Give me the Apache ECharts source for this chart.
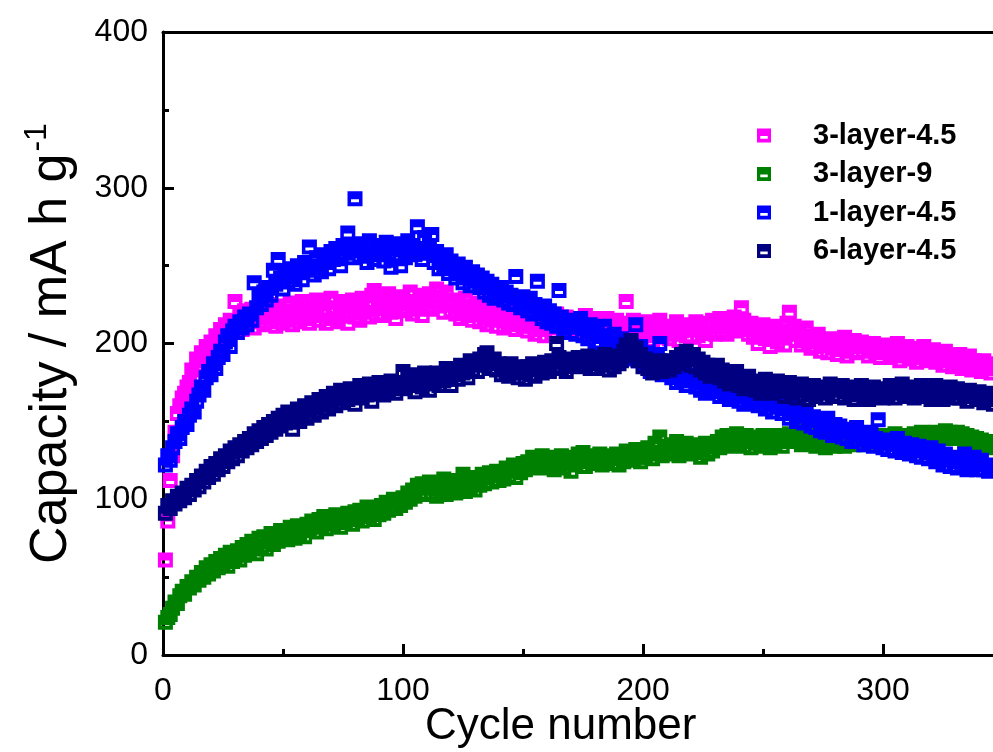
<!DOCTYPE html>
<html>
<head>
<meta charset="utf-8">
<script src="https://cdn.jsdelivr.net/npm/echarts@6/dist/echarts.min.js"></script>
<style>
  html, body { margin: 0; padding: 0; background: #ffffff; overflow: hidden; }
  #chart { width: 1160px; height: 752px; }
</style>
</head>
<body>
<div id="chart"></div>
<script>
// Discharge capacity (mA h g-1) for each cycle, starting at cycle 1.
const seriesNames = ['3-layer-4.5', '3-layer-9', '1-layer-4.5', '6-layer-4.5'];
const seriesColors = ['#ff00ff', '#008000', '#0000ff', '#000080'];

const layer3_45 = [
  61, 86, 112, 128, 143, 155, 160, 165, 168, 172,
  175, 183, 179, 190, 186, 194, 189, 198, 193, 201,
  197, 205, 200, 209, 203, 212, 206, 215, 209, 227,
  211, 218, 209, 221, 213, 216, 222, 210, 219, 214,
  223, 212, 218, 225, 214, 220, 211, 224, 217, 213,
  221, 215, 226, 212, 219, 223, 214, 227, 216, 220,
  213, 224, 218, 228, 215, 221, 226, 213, 222, 229,
  216, 223, 214, 227, 219, 225, 213, 221, 228, 217,
  224, 215, 229, 220, 226, 217, 231, 234, 219, 225,
  228, 218, 224, 232, 220, 227, 216, 229, 223, 230,
  221, 227, 233, 219, 226, 222, 231, 218, 228, 224,
  232, 222, 229, 235, 224, 230, 220, 233, 226, 221,
  228, 219, 225, 216, 223, 229, 218, 224, 215, 221,
  226, 214, 220, 223, 212, 218, 215, 222, 211, 217,
  219, 210, 216, 221, 212, 218, 209, 215, 220, 211,
  214, 208, 217, 211, 206, 215, 209, 213, 205, 212,
  216, 207, 213, 219, 210, 215, 208, 217, 211, 214,
  209, 216, 212, 207, 214, 218, 210, 213, 208, 216,
  211, 206, 214, 209, 216, 205, 212, 208, 215, 210,
  206, 213, 227, 209, 204, 215, 211, 203, 212, 207,
  214, 205, 210, 202, 212, 207, 215, 204, 209, 211,
  203, 210, 206, 214, 202, 208, 212, 205, 211, 204,
  209, 214, 205, 211, 207, 202, 213, 208, 215, 206,
  211, 216, 208, 213, 206, 214, 210, 217, 208, 212,
  223, 215, 209, 206, 213, 204, 210, 200, 207, 212,
  203, 209, 198, 206, 211, 201, 208, 204, 199, 213,
  220, 206, 211, 202, 208, 199, 205, 210, 201, 197,
  204, 198, 206, 195, 202, 199, 194, 203, 197, 200,
  193, 201, 196, 204, 192, 199, 195, 202, 194, 198,
  201, 195, 199, 192, 197, 200, 194, 196, 191, 198,
  194, 199, 191, 197, 193, 200, 189, 196, 192, 198,
  190, 197, 193, 188, 195, 191, 198, 189, 194, 190,
  196, 188, 193, 190, 186, 195, 189, 192, 185, 191,
  187, 193, 184, 190, 186, 192, 183, 189, 185, 188,
  182, 189, 184, 187, 181, 185
];

const layer3_9 = [
  21, 24, 26, 30, 34, 33, 38, 41, 39, 44,
  43, 47, 45, 50, 48, 53, 50, 56, 52, 58,
  54, 60, 56, 62, 58, 64, 57, 66, 60, 63,
  67, 61, 69, 64, 71, 66, 73, 68, 65, 75,
  70, 76, 68, 74, 78, 71, 77, 73, 80, 75,
  79, 74, 82, 77, 75, 83, 78, 81, 76, 84,
  80, 86, 82, 79, 87, 83, 89, 81, 85, 88,
  84, 90, 86, 82, 89, 85, 91, 87, 84, 92,
  88, 93, 86, 90, 95, 89, 92, 87, 94, 90,
  96, 91, 98, 93, 95, 100, 94, 99, 96, 101,
  98, 104, 100, 106, 102, 109, 104, 110, 103, 107,
  111, 104, 108, 102, 109, 106, 113, 103, 108, 105,
  110, 104, 112, 107, 116, 105, 110, 108, 114, 106,
  112, 109, 116, 110, 114, 117, 111, 115, 118, 112,
  117, 113, 120, 115, 118, 122, 114, 121, 117, 123,
  119, 124, 121, 127, 122, 125, 120, 128, 123, 126,
  121, 127, 119, 125, 122, 128, 120, 126, 124, 118,
  127, 122, 129, 124, 130, 121, 126, 128, 123, 127,
  125, 129, 122, 127, 124, 128, 123, 126, 129, 122,
  128, 124, 131, 126, 129, 125, 132, 127, 124, 130,
  127, 133, 129, 126, 136, 130, 140, 128, 134, 131,
  129, 135, 131, 137, 128, 134, 130, 136, 132, 129,
  135, 130, 134, 127, 133, 136, 129, 135, 131, 134,
  137, 133, 140, 135, 141, 134, 139, 136, 142, 135,
  139, 134, 141, 137, 133, 140, 136, 138, 134, 141,
  136, 140, 133, 139, 135, 141, 137, 134, 140, 138,
  142, 137, 140, 146, 139, 135, 143, 137, 141, 136,
  139, 134, 140, 136, 138, 133, 139, 135, 137, 134,
  138, 135, 137, 134, 139, 136, 138, 135, 137, 136,
  138, 135, 140, 136, 139, 137, 141, 136, 139, 138,
  140, 137, 141, 138, 142, 139, 137, 141, 138, 140,
  141, 138, 142, 139, 140, 143, 138, 141, 139, 142,
  140, 143, 139, 142, 141, 144, 139, 143, 140, 142,
  143, 139, 142, 138, 141, 137, 140, 136, 139, 137,
  138, 135, 137, 133, 136, 134
];

const layer1_45 = [
  122, 128, 125, 133, 137, 142, 139, 146, 150, 148,
  154, 158, 156, 163, 167, 172, 170, 178, 182, 180,
  187, 184, 191, 195, 193, 201, 205, 198, 208, 211,
  207, 214, 210, 217, 212, 219, 215, 239, 223, 230,
  225, 233, 228, 236, 231, 247, 238, 254, 242, 235,
  245, 240, 248, 243, 238, 250, 246, 241, 252, 247,
  262, 249, 244, 255, 250, 246, 257, 252, 248, 259,
  254, 261, 256, 250, 263, 258, 271, 260, 255, 293,
  262, 256, 264, 258, 252, 266, 259, 254, 263, 257,
  261, 253, 265, 258, 249, 262, 256, 264, 250, 260,
  255, 266, 259, 263, 257, 275, 261, 254, 268, 258,
  263, 270, 252, 259, 248, 256, 250, 257, 245, 253,
  248, 242, 251, 245, 239, 249, 243, 237, 246, 240,
  244, 236, 242, 233, 240, 231, 238, 229, 235, 232,
  236, 228, 233, 226, 231, 225, 243, 229, 223, 230,
  227, 221, 229, 219, 225, 240, 222, 216, 224, 214,
  221, 213, 219, 211, 234, 217, 209, 215, 212, 207,
  214, 206, 211, 216, 205, 210, 203, 212, 207, 201,
  208, 200, 205, 211, 198, 203, 196, 206, 200, 194,
  203, 192, 199, 190, 201, 195, 212, 189, 198, 192,
  186, 194, 182, 190, 185, 192, 200, 180, 188, 183,
  186, 178, 184, 175, 182, 177, 185, 173, 180, 176,
  179, 172, 177, 170, 176, 168, 175, 171, 178, 169,
  173, 166, 175, 168, 172, 164, 170, 166, 173, 163,
  168, 161, 167, 164, 170, 162, 166, 160, 168, 163,
  158, 165, 161, 156, 166, 159, 163, 155, 162, 158,
  152, 161, 157, 150, 159, 154, 149, 155, 151, 147,
  153, 146, 151, 144, 149, 143, 152, 145, 141, 148,
  143, 147, 140, 145, 139, 144, 137, 142, 146, 138,
  141, 135, 140, 137, 143, 134, 139, 151, 136, 133,
  138, 132, 137, 135, 131, 139, 133, 130, 136, 132,
  129, 135, 131, 128, 134, 127, 132, 130, 126, 133,
  128, 124, 131, 126, 122, 129, 125, 121, 127, 124,
  120, 126, 122, 129, 119, 124, 121, 127, 119, 123,
  125, 119, 122, 118, 121, 120
];

const layer6_45 = [
  91, 96, 94, 99, 97, 102, 99, 104, 101, 107,
  103, 109, 106, 112, 108, 115, 111, 118, 114, 121,
  116, 123, 119, 126, 121, 128, 124, 131, 126, 133,
  128, 135, 131, 137, 133, 139, 135, 142, 137, 144,
  139, 146, 141, 148, 143, 150, 145, 152, 147, 154,
  149, 156, 151, 145, 153, 158, 150, 155, 160, 152,
  157, 162, 154, 159, 164, 156, 161, 166, 158, 163,
  168, 160, 165, 170, 162, 167, 164, 171, 166, 161,
  169, 173, 165, 170, 167, 174, 163, 171, 168, 175,
  170, 167, 174, 169, 176, 171, 168, 175, 172, 182,
  171, 177, 173, 180, 169, 176, 178, 172, 181, 174,
  170, 178, 175, 181, 173, 179, 176, 184, 177, 173,
  180, 183, 177, 186, 181, 184, 178, 189, 183, 187,
  182, 190, 186, 193, 194, 188, 184, 190, 183, 187,
  180, 186, 182, 179, 187, 181, 184, 178, 185, 181,
  177, 185, 180, 187, 179, 183, 186, 181, 188, 184,
  182, 189, 185, 200, 191, 184, 188, 182, 190, 186,
  189, 185, 191, 187, 190, 186, 192, 184, 189, 187,
  184, 191, 186, 193, 188, 183, 190, 185, 192, 187,
  189, 195, 199, 192, 202, 194, 197, 189, 193, 185,
  190, 184, 188, 181, 186, 183, 189, 182, 187, 185,
  183, 189, 185, 191, 187, 193, 189, 195, 191, 186,
  193, 185, 190, 183, 188, 181, 186, 179, 184, 182,
  186, 178, 183, 176, 181, 174, 179, 177, 182, 173,
  177, 171, 175, 179, 172, 176, 170, 174, 168, 173,
  177, 170, 174, 168, 172, 176, 169, 173, 166, 171,
  175, 168, 172, 165, 170, 174, 167, 171, 164, 169,
  173, 166, 170, 168, 172, 165, 169, 174, 167, 171,
  166, 170, 173, 165, 169, 167, 172, 164, 170, 168,
  173, 166, 170, 164, 169, 172, 166, 171, 168, 165,
  170, 167, 173, 168, 165, 171, 169, 174, 166, 170,
  168, 172, 165, 170, 167, 173, 166, 169, 171, 164,
  169, 173, 166, 170, 164, 171, 167, 172, 165, 168,
  171, 165, 169, 167, 163, 170, 166, 168, 164, 169,
  166, 162, 168, 164, 167, 161
];

const capacityByCell = [layer3_45, layer3_9, layer1_45, layer6_45];

// Hollow square marker: filled ring with a slot cut through the middle.
const hollowSquare = 'path://M0,0H15V15H0Z M3.5,8V11H11.5V8Z';
const FONT = '"Liberation Sans", Arial, Helvetica, sans-serif';

const chart = echarts.init(document.getElementById('chart'), null, { renderer: 'canvas' });

const series = capacityByCell.map((values, k) => ({
  name: seriesNames[k],
  type: 'scatter',
  symbol: hollowSquare,
  symbolSize: [15, 15],
  itemStyle: { color: seriesColors[k], opacity: 1 },
  emphasis: { disabled: true },
  data: values.map((v, i) => [i + 1, v])
}));

const axisBlack = { color: '#000', width: 3 };

chart.setOption({
  animation: false,
  backgroundColor: '#ffffff',
  grid: { left: 163, top: 32, width: 960, height: 623, containLabel: false },
  title: {
    text: 'Cycle number',
    left: 420,
    top: 700,
    textStyle: { fontFamily: FONT, fontSize: 44, fontWeight: 'normal', color: '#000' }
  },
  legend: {
    orient: 'vertical',
    left: 752,
    top: 116,
    itemWidth: 14,
    itemHeight: 14,
    itemGap: 9.5,
    selectedMode: false,
    data: seriesNames.map(n => ({ name: n, icon: hollowSquare })),
    textStyle: {
      fontFamily: FONT, fontSize: 29, fontWeight: 'bold', color: '#000',
      lineHeight: 29, padding: [0, 0, 0, 37]
    }
  },
  xAxis: [
    {
      type: 'value', min: 0, max: 400, interval: 100,
      axisLine: { show: true, onZero: false, lineStyle: axisBlack },
      axisTick: { show: true, inside: true, length: 11, lineStyle: axisBlack },
      minorTick: { show: true, splitNumber: 2, length: 6, lineStyle: axisBlack },
      splitLine: { show: false },
      minorSplitLine: { show: false },
      axisLabel: { fontFamily: FONT, fontSize: 32, color: '#000', margin: 20 }
    },
    {
      type: 'value', position: 'top', min: 0, max: 400,
      axisLine: { show: true, onZero: false, lineStyle: axisBlack },
      axisTick: { show: false }, axisLabel: { show: false }, splitLine: { show: false }
    }
  ],
  yAxis: {
    type: 'value', min: 0, max: 400, interval: 100,
    axisLine: { show: true, onZero: false, lineStyle: axisBlack },
    axisTick: { show: true, inside: true, length: 11, lineStyle: axisBlack },
    minorTick: { show: true, splitNumber: 2, length: 6, lineStyle: axisBlack },
    splitLine: { show: false },
    minorSplitLine: { show: false },
    axisLabel: { fontFamily: FONT, fontSize: 32, color: '#000', margin: 15 },
    name: '{t|Capacity / mA h g}{s|-1}',
    nameLocation: 'middle',
    nameRotate: 90,
    nameGap: 80,
    nameTextStyle: {
      rich: {
        t: { fontFamily: FONT, fontSize: 52, color: '#000' },
        s: { fontFamily: FONT, fontSize: 32, color: '#000', padding: [0, 0, 30, 2] }
      }
    }
  },
  series: series
});
</script>
</body>
</html>
